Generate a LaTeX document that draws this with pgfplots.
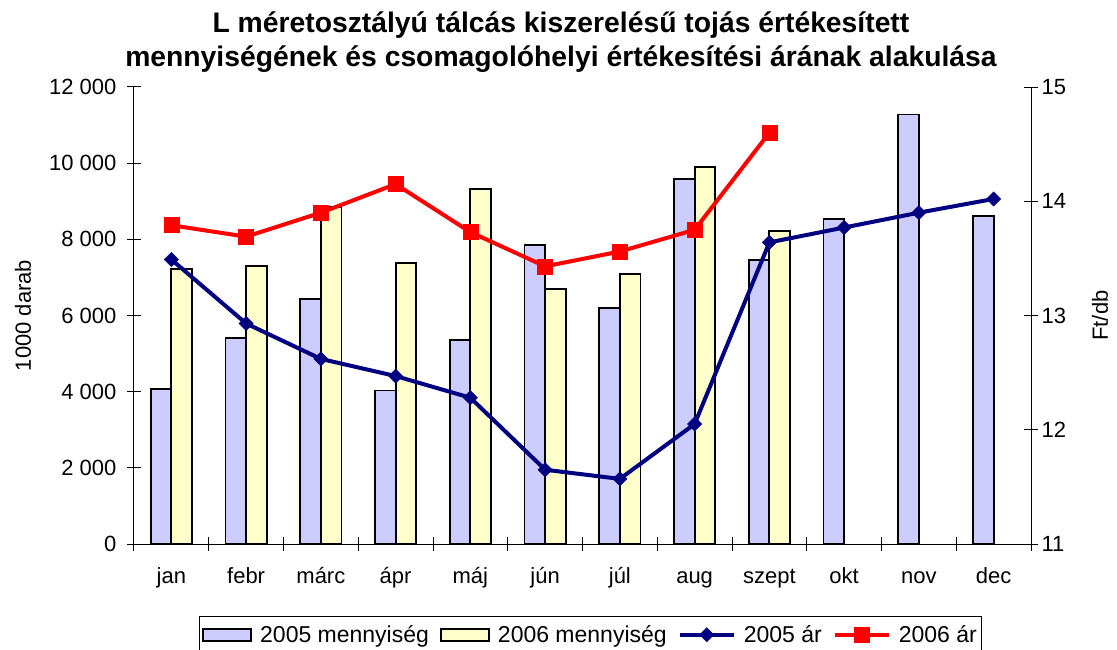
\documentclass[border=0pt]{standalone}
\usepackage{pgfplots}
\pgfplotsset{compat=1.18}
\usepackage{fontspec}
\setmainfont{Liberation Sans}
\definecolor{lav}{HTML}{CCCCFF}
\definecolor{cream}{HTML}{FFFFCC}
\definecolor{navyb}{HTML}{000080}
\definecolor{redl}{HTML}{FF0000}
\pgfplotsset{
  mylineleg/.style={legend image code/.code={\draw[mark repeat=2,mark phase=2,##1] plot coordinates {(0pt,0pt) (27pt,0pt) (54pt,0pt)};}},
  lavleg/.style={legend image code/.code={\draw[fill=lav, draw=black, line width=1.8pt] (0.9pt,-6pt) rectangle (49.1pt,6pt);}},
  creamleg/.style={legend image code/.code={\draw[fill=cream, draw=black, line width=1.8pt] (0.9pt,-6pt) rectangle (49.1pt,6pt);}},
}
\begin{document}
\begin{tikzpicture}[x=1pt,y=1pt]
\useasboundingbox (0,0) rectangle (1117,649);
\node[anchor=base, font=\fontsize{28.3}{32}\selectfont\bfseries, inner sep=0pt] at (561,616) {L méretosztályú tálcás kiszerelésű tojás értékesített};
\node[anchor=base, font=\fontsize{28.3}{32}\selectfont\bfseries, inner sep=0pt] at (561,582) {mennyiségének és csomagolóhelyi értékesítési árának alakulása};

\begin{axis}[
  at={(134pt,105pt)}, anchor=south west, scale only axis,
  width=897pt, height=457pt,
  xmin=-0.5, xmax=11.5, ymin=0, ymax=12000,
  scaled y ticks=false,
  axis x line*=bottom, axis y line*=left,
  axis line style={-, line width=1pt, black},
  ybar=0pt, bar width=20.7pt,
  xtick={0,...,11},
  xticklabels={jan,febr,márc,ápr,máj,jún,júl,aug,szept,okt,nov,dec},
  major x tick style={draw=none},
  minor xtick={-0.5,0.5,...,11.5},
  ytick={0,2000,4000,6000,8000,10000,12000},
  yticklabels={0,2 000,4 000,6 000,8 000,10 000,12 000},
  tick align=center, major tick length=14pt, minor tick length=14pt,
  tick style={black, line width=1pt},
  tick label style={font=\fontsize{22}{26}\selectfont},
  xticklabel style={text height=16pt, text depth=5pt, yshift=-13pt},
  yticklabel style={xshift=-7pt},
  ylabel={1000 darab},
  ylabel style={at={(axis description cs:-0.1237,0.5)}, anchor=center, font=\fontsize{22}{26}\selectfont},
  clip=false,
]
\addplot[fill=lav, draw=black, line width=1.8pt] coordinates {
 (0,4060) (1,5400) (2,6430) (3,4030) (4,5360) (5,7860) (6,6200) (7,9590) (8,7450) (9,8530) (10,11280) (11,8620)};
\addplot[fill=cream, draw=black, line width=1.8pt] coordinates {
 (0,7220) (1,7300) (2,8840) (3,7370) (4,9320) (5,6700) (6,7100) (7,9900) (8,8220)};
\end{axis}

\begin{axis}[
  at={(134pt,105pt)}, anchor=south west, scale only axis,
  width=897pt, height=457pt,
  xmin=-0.5, xmax=11.5, ymin=11, ymax=15,
  axis x line=none, axis y line*=right,
  axis line style={-, line width=1pt, black},
  ytick={11,12,13,14,15},
  yticklabels={11,12,13,14,15},
  tick align=center, major tick length=14pt,
  tick style={black, line width=1pt},
  tick label style={font=\fontsize{22}{26}\selectfont},
  ylabel={Ft/db},
  ylabel style={at={(axis description cs:1.0769,0.5)}, anchor=center, font=\fontsize{22}{26}\selectfont},
  clip=false,
  legend columns=4,
  legend cell align=left,
  legend style={at={(axis description cs:0.5089,-0.1576)}, anchor=north,
    draw=black, line width=1pt, fill=white,
    font=\fontsize{23}{27}\selectfont,
    inner xsep=3pt, inner ysep=7pt,
    /tikz/every odd column/.append style={column sep=6pt},
    /tikz/every even column/.append style={column sep=9pt}},
]
\addlegendimage{lavleg}
\addlegendentry{2005 mennyiség}
\addlegendimage{creamleg}
\addlegendentry{2006 mennyiség}
\addplot[navyb, line width=4pt, mark=square*, mark size=5pt, mark options={rotate=45, line width=0.5pt}, mylineleg]
 coordinates {(0,13.49) (1,12.93) (2,12.62) (3,12.47) (4,12.28) (5,11.65) (6,11.57) (7,12.05) (8,13.64) (9,13.77) (10,13.90) (11,14.02)};
\addlegendentry{2005 ár}
\addplot[redl, line width=4pt, mark=square*, mark size=7.5pt, mark options={line width=0.5pt}, mylineleg]
 coordinates {(0,13.79) (1,13.69) (2,13.90) (3,14.15) (4,13.73) (5,13.43) (6,13.56) (7,13.75) (8,14.60)};
\addlegendentry{2006 ár}
\end{axis}
\end{tikzpicture}
\end{document}
